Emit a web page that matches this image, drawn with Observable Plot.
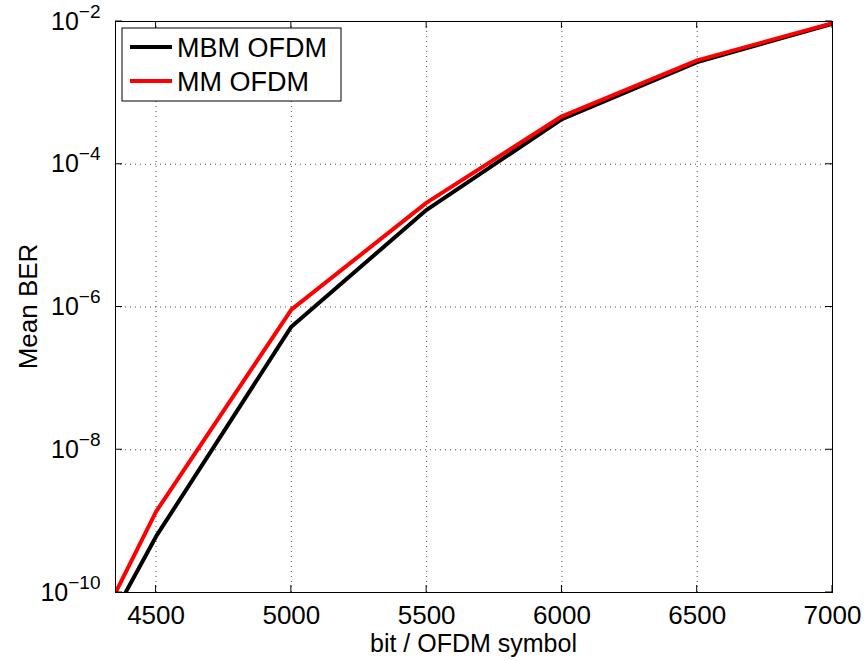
<!DOCTYPE html>
<html><head><meta charset="utf-8">
<script src="https://cdn.jsdelivr.net/npm/d3@7"></script>
<script src="https://cdn.jsdelivr.net/npm/@observablehq/plot@0.6"></script>
<style>
body{margin:0;background:#fff}
svg{font-family:"Liberation Sans",Arial,Helvetica,sans-serif}
</style>
</head><body><div id="chart"></div>
<script>
// data
const bitsPerSymbol = [4000, 4500, 5000, 5500, 6000, 6500, 7000];
const berMBM = [2.0e-13, 6.1e-10, 5.3e-7, 2.3e-5, 4.3e-4, 2.7e-3, 9.3e-3];
const berMM  = [2.2e-13, 1.36e-9, 9.2e-7, 2.9e-5, 4.7e-4, 2.85e-3, 9.5e-3];
const xTicks = [4500, 5000, 5500, 6000, 6500, 7000];
const yTickExponents = [-10, -8, -6, -4, -2];
const seriesNames = ["MBM OFDM", "MM OFDM"];
const seriesColors = ["#000000", "#ff0000"];
const xLabel = "bit / OFDM symbol";
const yLabel = "Mean BER";

const yTicks = yTickExponents.map(e => Math.pow(10, e));
const rows = [];
bitsPerSymbol.forEach((b, i) => rows.push({series: seriesNames[0], bits: b, ber: berMBM[i]}));
bitsPerSymbol.forEach((b, i) => rows.push({series: seriesNames[1], bits: b, ber: berMM[i]}));

const W = 868, H = 661, mL = 115, mR = 36, mT = 21, mB = 69;
const gridStyle = {stroke: "#000", strokeOpacity: 0.7, strokeDasharray: "1,4", strokeWidth: 1};

const chart = Plot.plot({
  width: W, height: H,
  marginLeft: mL, marginRight: mR, marginTop: mT, marginBottom: mB,
  style: {fontFamily: '"Liberation Sans",Arial,Helvetica,sans-serif', fontSize: "26px", color: "#000", background: "#fff"},
  x: {domain: [4350, 7000]},
  y: {type: "log", domain: [1e-10, 1e-2]},
  color: {domain: seriesNames, range: seriesColors},
  marks: [
    Plot.gridX(xTicks.slice(0, -1), gridStyle),
    Plot.gridY(yTicks.slice(1, -1), gridStyle),
    Plot.axisX(xTicks, {tickSize: 0, tickPadding: 13, fontSize: 26, label: null, tickFormat: d => String(d)}),
    Plot.axisY(yTicks, {tickSize: 0, tickPadding: 15, fontSize: 25, label: null,
      tickFormat: v => "10^" + Math.round(Math.log10(v))}),
    Plot.line(rows, {x: "bits", y: "ber", z: "series", stroke: "series", strokeWidth: 4, clip: true}),
    Plot.frame({stroke: "#000", strokeWidth: 1})
  ]
});
document.getElementById("chart").appendChild(chart);

const svg = d3.select(chart);
const sx = chart.scale("x"), sy = chart.scale("y");

// superscript exponents
svg.selectAll('g[aria-label="y-axis tick label"] text').each(function() {
  const t = d3.select(this);
  const parts = t.text().split("^");
  t.text(null);
  t.append("tspan").text(parts[0]);
  t.append("tspan").attr("dy", "-0.62em").attr("font-size", "19px").text(parts[1].replace("-", "\u2212"));
});

// inward ticks on all four sides
const tk = svg.append("g").attr("stroke", "#000").attr("stroke-width", 1);
const fTop = mT, fBottom = H - mB, fLeft = mL, fRight = W - mR, tickLen = 7;
xTicks.forEach(v => {
  const px = sx.apply(v);
  tk.append("line").attr("x1", px).attr("x2", px).attr("y1", fBottom).attr("y2", fBottom - tickLen);
  tk.append("line").attr("x1", px).attr("x2", px).attr("y1", fTop).attr("y2", fTop + tickLen);
});
yTicks.forEach(v => {
  const py = sy.apply(v);
  tk.append("line").attr("y1", py).attr("y2", py).attr("x1", fLeft).attr("x2", fLeft + tickLen);
  tk.append("line").attr("y1", py).attr("y2", py).attr("x1", fRight).attr("x2", fRight - tickLen);
});

// axis titles
svg.append("text").attr("x", (fLeft + fRight) / 2).attr("y", 652).attr("text-anchor", "middle")
  .attr("font-size", 25).attr("fill", "#000").text(xLabel);
svg.append("text").attr("transform", `translate(37,${(fTop + fBottom) / 2}) rotate(-90)`).attr("text-anchor", "middle")
  .attr("font-size", 26).attr("fill", "#000").text(yLabel);

// legend
const lg = svg.append("g").attr("text-anchor", "start");
lg.append("rect").attr("x", 122).attr("y", 28).attr("width", 219).attr("height", 73)
  .attr("fill", "#fff").attr("stroke", "#000").attr("stroke-width", 1);
seriesNames.forEach((name, i) => {
  const cy = 47 + i * 34;
  lg.append("line").attr("x1", 130).attr("x2", 172).attr("y1", cy).attr("y2", cy)
    .attr("stroke", seriesColors[i]).attr("stroke-width", 4);
  lg.append("text").attr("x", 177).attr("y", cy + 9.5).attr("font-size", 27).attr("fill", "#000")
    .attr("text-anchor", "start").text(name);
});
</script>
</body></html>
